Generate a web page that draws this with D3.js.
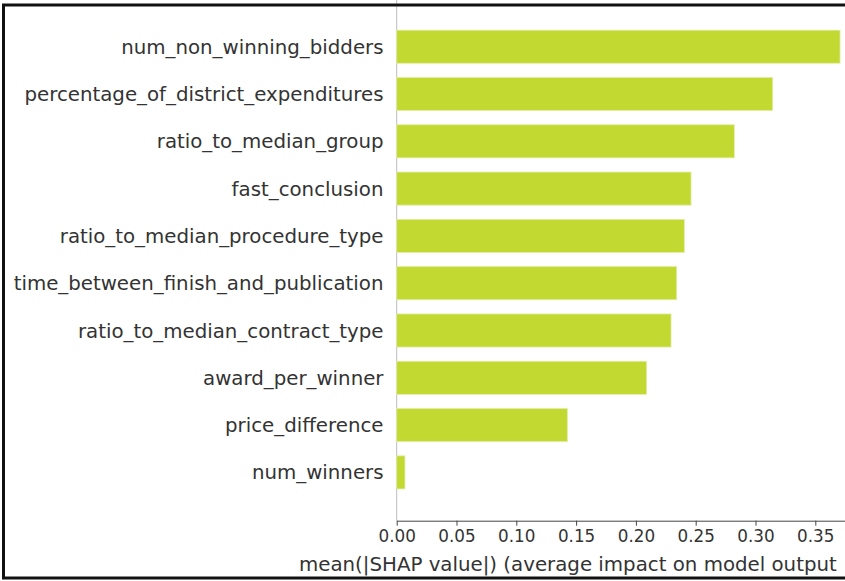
<!DOCTYPE html>
<html>
<head>
<meta charset="utf-8">
<script src="https://cdn.jsdelivr.net/npm/d3@7"></script>
<style>
  html, body { margin: 0; padding: 0; background: #fff; }
  svg { display: block; font-family: "DejaVu Sans", sans-serif; }
</style>
</head>
<body>
<svg id="chart" width="845" height="581"></svg>
<script>
// Feature names, top to bottom
const features = [
  "num_non_winning_bidders",
  "percentage_of_district_expenditures",
  "ratio_to_median_group",
  "fast_conclusion",
  "ratio_to_median_procedure_type",
  "time_between_finish_and_publication",
  "ratio_to_median_contract_type",
  "award_per_winner",
  "price_difference",
  "num_winners"
];
// mean(|SHAP value|) per feature
const meanAbsShap = [0.3707, 0.3144, 0.2823, 0.2461, 0.2405, 0.2341, 0.2294, 0.2090, 0.1427, 0.0069];
// x-axis tick values
const xTicks = [0.00, 0.05, 0.10, 0.15, 0.20, 0.25, 0.30, 0.35];
const xLabel = "mean(|SHAP value|) (average impact on model output";

const svg = d3.select("#chart");
const W = 845, H = 581;

const x0 = 396.7, pxPerUnit = 1196;
const axisY = 520.7;
const x = d3.scaleLinear().domain([0, 0.4]).range([x0, x0 + pxPerUnit * 0.4]);
const y = d3.scaleBand()
  .domain(features)
  .range([23.05, 23.05 + 47.3 * features.length])
  .paddingInner(0.3)
  .paddingOuter(0.15);

const textColor = "#333333";
const barColor = "#c2d932";

// left spine
svg.append("line")
  .attr("x1", x0).attr("x2", x0)
  .attr("y1", 0).attr("y2", axisY)
  .attr("stroke", "#bdbdbd").attr("stroke-width", 1);

// bars
svg.append("g").selectAll("rect")
  .data(features.map((f, i) => ({ f, v: meanAbsShap[i] })))
  .join("rect")
  .attr("x", x(0))
  .attr("y", d => y(d.f))
  .attr("height", y.bandwidth())
  .attr("width", d => x(d.v) - x(0))
  .attr("fill", barColor)
  .attr("stroke", "#e3edaa")
  .attr("stroke-width", 0.8);

// feature labels
svg.append("g").selectAll("text")
  .data(features)
  .join("text")
  .attr("x", 383.5)
  .attr("y", f => y(f) + y.bandwidth() / 2 + 0.5)
  .attr("text-anchor", "end")
  .attr("dominant-baseline", "central")
  .attr("fill", textColor)
  .attr("font-size", "19.8px")
  .text(f => f);

// x axis
const xAxis = d3.axisBottom(x)
  .tickValues(xTicks)
  .tickFormat(d3.format(".2f"))
  .tickSize(5)
  .tickSizeOuter(0)
  .tickPadding(4);

const gx = svg.append("g")
  .attr("transform", `translate(0,${axisY})`)
  .call(xAxis);
gx.select(".domain").attr("stroke", "#444").attr("stroke-width", 1);
gx.selectAll(".tick line").attr("stroke", "#444");
gx.selectAll(".tick text")
  .attr("fill", textColor)
  .attr("font-size", "16.8px")
  .attr("font-family", "DejaVu Sans, sans-serif");

// x axis title
svg.append("text")
  .attr("x", 299)
  .attr("y", 571)
  .attr("fill", textColor)
  .attr("font-size", "19.8px")
  .text(xLabel);

// outer frame
svg.append("rect")
  .attr("x", 3.5).attr("y", 5)
  .attr("width", W + 10).attr("height", 573)
  .attr("fill", "none")
  .attr("stroke", "#111")
  .attr("stroke-width", 3);
</script>
</body>
</html>
